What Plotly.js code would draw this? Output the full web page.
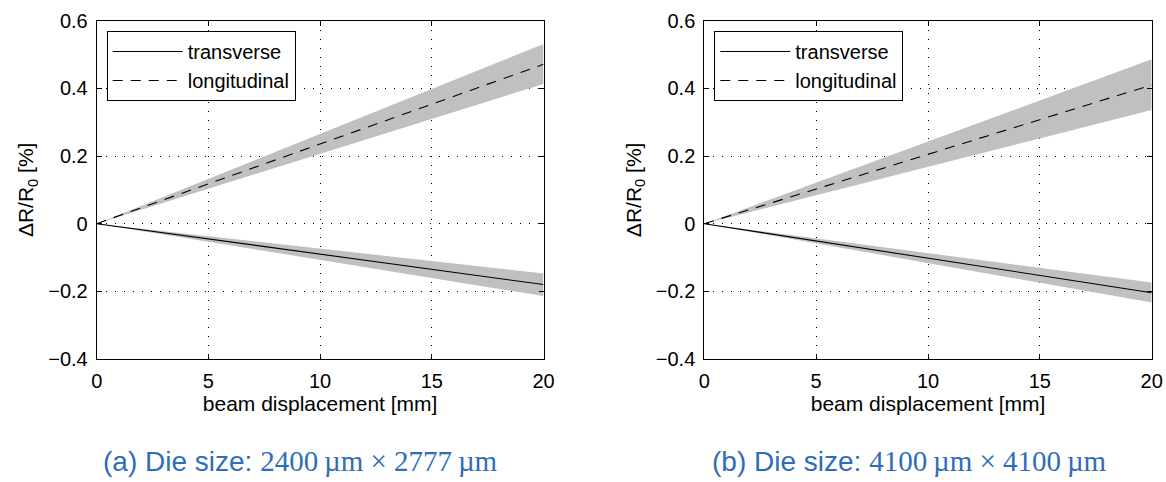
<!DOCTYPE html>
<html>
<head>
<meta charset="utf-8">
<script src="https://cdn.plot.ly/plotly-3.0.1.min.js"></script>
<style>html,body{margin:0;padding:0;background:#fff;}#chart{width:1166px;height:482px;}</style>
</head>
<body>
<div id="chart"></div>
<script>
// beam displacement [mm]
const xVals = [0, 5, 10, 15, 20];

// (a) Die size 2400 x 2777 um
const aLong      = [0, 0.118, 0.235, 0.353, 0.471];
const aLongUp    = [0, 0.133, 0.265, 0.398, 0.531];
const aLongLo    = [0, 0.103, 0.206, 0.310, 0.413];
const aTrans     = [0, -0.045, -0.090, -0.135, -0.180];
const aTransUp   = [0, -0.037, -0.074, -0.111, -0.147];
const aTransLo   = [0, -0.0535, -0.107, -0.160, -0.214];

// (b) Die size 4100 x 4100 um
const bLong      = [0, 0.1025, 0.205, 0.3075, 0.410];
const bLongUp    = [0, 0.1215, 0.243, 0.3645, 0.486];
const bLongLo    = [0, 0.084, 0.168, 0.252, 0.336];
const bTrans     = [0, -0.051, -0.102, -0.153, -0.204];
const bTransUp   = [0, -0.0435, -0.087, -0.130, -0.174];
const bTransLo   = [0, -0.058, -0.1165, -0.175, -0.233];

const xTicks = [0, 5, 10, 15, 20];
const yTicks = [-0.4, -0.2, 0, 0.2, 0.4, 0.6];
const captions = ["(a) Die size: ", "(b) Die size: "];
const captionDims = ["2400\u2009\u00b5m \u00d7 2777\u2009\u00b5m", "4100\u2009\u00b5m \u00d7 4100\u2009\u00b5m"];
const seriesNames = ["transverse", "longitudinal"];

const BAND = '#c0c0c0';
const FONT = "'Liberation Sans', Arial, sans-serif";

function band(up, lo, xa, ya) {
  return [
    {x: xVals, y: up, xaxis: xa, yaxis: ya, mode: 'lines', line: {width: 0, color: BAND}, showlegend: false, hoverinfo: 'skip'},
    {x: xVals, y: lo, xaxis: xa, yaxis: ya, mode: 'lines', line: {width: 0, color: BAND}, fill: 'tonexty', fillcolor: BAND, showlegend: false, hoverinfo: 'skip'}
  ];
}

const traces = [
  ...band(aLongUp, aLongLo, 'x', 'y'),
  ...band(aTransUp, aTransLo, 'x', 'y'),
  {x: xVals, y: aTrans, xaxis: 'x', yaxis: 'y', mode: 'lines', name: seriesNames[0], line: {color: '#000', width: 1.1}, legend: 'legend'},
  {x: xVals, y: aLong, xaxis: 'x', yaxis: 'y', mode: 'lines', name: seriesNames[1], line: {color: '#000', width: 1.1, dash: '10px,8px'}, legend: 'legend'},
  ...band(bLongUp, bLongLo, 'x2', 'y2'),
  ...band(bTransUp, bTransLo, 'x2', 'y2'),
  {x: xVals, y: bTrans, xaxis: 'x2', yaxis: 'y2', mode: 'lines', name: seriesNames[0], line: {color: '#000', width: 1.1}, legend: 'legend2'},
  {x: xVals, y: bLong, xaxis: 'x2', yaxis: 'y2', mode: 'lines', name: seriesNames[1], line: {color: '#000', width: 1.1, dash: '10px,8px'}, legend: 'legend2'}
];

function xAxis(domain, anchor) {
  return {
    domain: domain, anchor: anchor, range: [0, 20], tickvals: xTicks, ticktext: xTicks.map(String),
    ticks: 'inside', ticklen: 5, tickcolor: '#000', mirror: 'ticks', showline: true, linecolor: '#000', linewidth: 1,
    showgrid: true, gridcolor: '#000', gridwidth: 1, griddash: '1px,8px', zeroline: false,
    tickfont: {family: FONT, size: 20, color: '#000'}, ticklabelstandoff: 4,
    title: {text: 'beam displacement [mm]', font: {family: FONT, size: 21, color: '#000'}, standoff: 2},
    automargin: false, fixedrange: true
  };
}
function yAxis(domain, anchor) {
  return {
    domain: domain, anchor: anchor, range: [-0.4, 0.6], tickvals: yTicks,
    ticktext: yTicks.map(v => v === 0 ? '0' : (v < 0 ? '\u2212' + Math.abs(v).toFixed(1) : v.toFixed(1))),
    ticks: 'inside', ticklen: 5, tickcolor: '#000', mirror: 'ticks', showline: true, linecolor: '#000', linewidth: 1,
    showgrid: true, gridcolor: '#000', gridwidth: 1, griddash: '1px,8px', zeroline: false,
    tickfont: {family: FONT, size: 20, color: '#000'}, ticklabelstandoff: 4,
    title: {text: '\u0394R/R<sub>0</sub> [%]', font: {family: FONT, size: 21, color: '#000'}, standoff: 8},
    automargin: false, fixedrange: true
  };
}

const yDom = [1 - 359 / 482, 1 - 20.7 / 482];
const legendStyle = (x) => ({
  x: x, y: 1 - 31 / 482, xanchor: 'left', yanchor: 'top', xref: 'paper', yref: 'paper',
  bgcolor: '#fff', bordercolor: '#000', borderwidth: 1, traceorder: 'normal',
  font: {family: FONT, size: 20, color: '#000'}, itemwidth: 70, tracegroupgap: 0
});

const layout = {
  width: 1166, height: 482,
  margin: {l: 0, r: 0, t: 0, b: 0},
  paper_bgcolor: '#fff', plot_bgcolor: '#fff',
  showlegend: true,
  xaxis: xAxis([96.7 / 1166, 543.5 / 1166], 'y'),
  yaxis: yAxis(yDom, 'x'),
  xaxis2: xAxis([704.3 / 1166, 1151.7 / 1166], 'y2'),
  yaxis2: yAxis(yDom, 'x2'),
  legend: legendStyle(106.7 / 1166),
  legend2: legendStyle(714.3 / 1166),
  annotations: [
    {xref: 'paper', yref: 'paper', x: 300 / 1166, y: 1 - 461 / 482, xanchor: 'center', yanchor: 'middle', showarrow: false,
     text: captions[0] + '<span style="font-family:\'Liberation Serif\', serif; font-size:29px">' + captionDims[0] + '</span>',
     font: {family: FONT, size: 28, color: '#2f6db8'}},
    {xref: 'paper', yref: 'paper', x: 910 / 1166, y: 1 - 461 / 482, xanchor: 'center', yanchor: 'middle', showarrow: false,
     text: captions[1] + '<span style="font-family:\'Liberation Serif\', serif; font-size:29px">' + captionDims[1] + '</span>',
     font: {family: FONT, size: 28, color: '#2f6db8'}}
  ]
};

Plotly.newPlot('chart', traces, layout, {displayModeBar: false, staticPlot: true});
</script>
</body>
</html>
